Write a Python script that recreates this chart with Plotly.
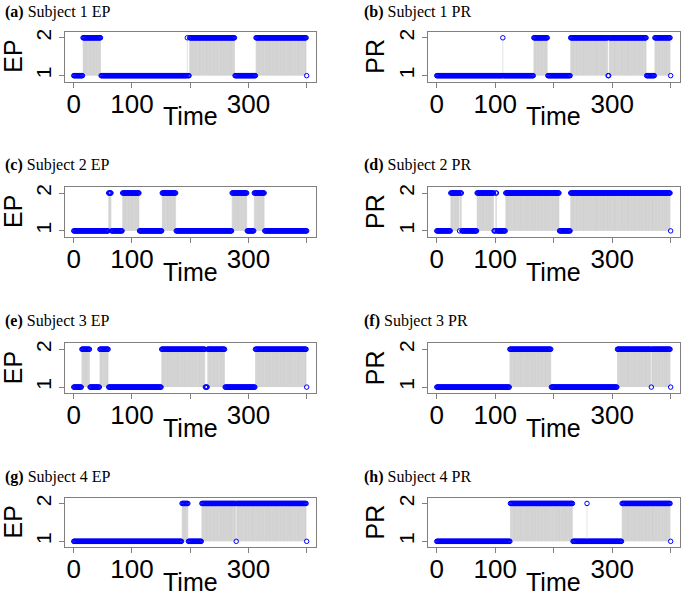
import plotly.graph_objects as go

# ---- data: run-length encoded state series (time 0..400) ----
time_first, time_last = 0, 400

s1_ep_starts = [0, 16, 47, 195, 196, 199, 277, 313, 400]
s1_ep_states = [1, 2, 1, 2, 1, 2, 1, 2, 1]

s1_pr_starts = [0, 113, 114, 166, 190, 229, 293, 295, 359, 373, 400]
s1_pr_states = [1, 2, 1, 2, 1, 2, 1, 2, 1, 2, 1]

s2_ep_starts = [0, 60, 65, 84, 113, 152, 176, 272, 298, 310, 328]
s2_ep_states = [1, 2, 1, 2, 1, 2, 1, 2, 1, 2, 1]

s2_pr_starts = [0, 24, 39, 40, 43, 69, 98, 101, 103, 118, 210, 229, 400]
s2_pr_states = [1, 2, 1, 2, 1, 2, 1, 2, 1, 2, 1, 2, 1]

s3_ep_starts = [0, 14, 28, 45, 60, 151, 226, 230, 260, 312, 400]
s3_ep_states = [1, 2, 1, 2, 1, 2, 1, 2, 1, 2, 1]

s3_pr_starts = [0, 125, 196, 309, 367, 368, 400]
s3_pr_states = [1, 2, 1, 2, 1, 2, 1]

s4_ep_starts = [0, 186, 197, 220, 279, 280, 400]
s4_ep_states = [1, 2, 1, 2, 1, 2, 1]

s4_pr_starts = [0, 126, 233, 257, 258, 317, 400]
s4_pr_states = [1, 2, 1, 2, 1, 2, 1]

panel_titles = ["Subject 1 EP", "Subject 1 PR", "Subject 2 EP", "Subject 2 PR",
                "Subject 3 EP", "Subject 3 PR", "Subject 4 EP", "Subject 4 PR"]
panel_letters = ["(a)", "(b)", "(c)", "(d)", "(e)", "(f)", "(g)", "(h)"]
y_labels = ["EP", "PR", "EP", "PR", "EP", "PR", "EP", "PR"]
x_tick_vals = [0, 100, 200, 300, 400]
x_tick_text = ["0", "100", "", "300", ""]
y_tick_vals = [1, 2]
x_label = "Time"

series = [(s1_ep_starts, s1_ep_states), (s1_pr_starts, s1_pr_states),
          (s2_ep_starts, s2_ep_states), (s2_pr_starts, s2_pr_states),
          (s3_ep_starts, s3_ep_states), (s3_pr_starts, s3_pr_states),
          (s4_ep_starts, s4_ep_states), (s4_pr_starts, s4_pr_states)]


def expand(starts, states):
    t = list(range(time_first, time_last + 1))
    v = []
    k = 0
    for ti in t:
        while k + 1 < len(starts) and ti >= starts[k + 1]:
            k += 1
        v.append(states[k])
    return t, v


# ---- layout geometry (pixels) ----
W, H = 685, 599
col_x = [(65, 316), (428, 680)]
row_y = [(29, 79), (185, 235), (342, 392), (497, 547)]
title_y = [9, 163, 320, 476]
title_x = [3, 362]
ylabel_x = [13, 375]


def px_x(p):
    return p / W


def px_y(p):
    return 1 - p / H


fig = go.Figure()
annotations = []
layout = {}

for i, (starts, states) in enumerate(series):
    r, c = divmod(i, 2)
    idx = i + 1
    xa = "x" if idx == 1 else f"x{idx}"
    ya = "y" if idx == 1 else f"y{idx}"
    t, v = expand(starts, states)

    # vertical "h"-type lines from 1 to value
    lx, ly = [], []
    for ti, vi in zip(t, v):
        if vi > 1:
            lx += [ti, ti, None]
            ly += [1, vi, None]
    fig.add_trace(go.Scatter(x=lx, y=ly, mode="lines",
                             line=dict(color="rgba(130,130,130,0.38)", width=0.6),
                             hoverinfo="skip", showlegend=False,
                             xaxis=xa, yaxis=ya))
    fig.add_trace(go.Scatter(x=t, y=v, mode="markers",
                             marker=dict(symbol="circle-open", size=4.5, color="#0000ff",
                                         line=dict(width=1, color="#0000ff")),
                             showlegend=False, xaxis=xa, yaxis=ya))

    x0, x1 = col_x[c]
    y0, y1 = row_y[r]
    xkey = "xaxis" if idx == 1 else f"xaxis{idx}"
    ykey = "yaxis" if idx == 1 else f"yaxis{idx}"
    layout[xkey] = dict(domain=[px_x(x0), px_x(x1)], anchor=ya, range=[-15, 416],
                        showgrid=False, zeroline=False, showline=True, mirror=True,
                        linecolor="#808080", linewidth=1, ticks="outside", ticklen=5,
                        tickcolor="#808080", tickvals=x_tick_vals, ticktext=x_tick_text,
                        ticklabelstandoff=-6,
                        tickfont=dict(family="Liberation Sans", size=26, color="black"))
    layout[ykey] = dict(domain=[px_y(y1), px_y(y0)], anchor=xa, range=[0.843, 2.157],
                        showgrid=False, zeroline=False, showline=True, mirror=True,
                        linecolor="#808080", linewidth=1, ticks="outside", ticklen=5,
                        tickcolor="#808080", tickvals=y_tick_vals, tickangle=-90,
                        tickfont=dict(family="Liberation Sans", size=21, color="black"))

    annotations.append(dict(text=f"<b>{panel_letters[i]}</b> {panel_titles[i]}",
                            xref="paper", yref="paper", x=px_x(title_x[c]), y=px_y(title_y[r]),
                            xanchor="left", yanchor="middle", showarrow=False,
                            font=dict(family="Liberation Serif", size=16, color="black")))
    annotations.append(dict(text=x_label, xref=xa, yref="paper", x=200,
                            y=px_y(y1 + 35), xanchor="center", yanchor="middle",
                            showarrow=False,
                            font=dict(family="Liberation Sans", size=25, color="black")))
    annotations.append(dict(text=y_labels[i], xref="paper", yref="paper",
                            x=px_x(ylabel_x[c]), y=px_y((y0 + y1) / 2), textangle=-90,
                            xanchor="center", yanchor="middle", showarrow=False,
                            font=dict(family="Liberation Sans", size=25, color="black")))

fig.update_layout(width=W, height=H, autosize=False,
                  margin=dict(l=0, r=0, t=0, b=0),
                  paper_bgcolor="white", plot_bgcolor="white",
                  annotations=annotations, **layout)

# remove the default 8px page margin so the figure fills the window exactly
fig.write_html("out.html", config={"displayModeBar": False},
               post_script="document.body.style.margin='0px';")
